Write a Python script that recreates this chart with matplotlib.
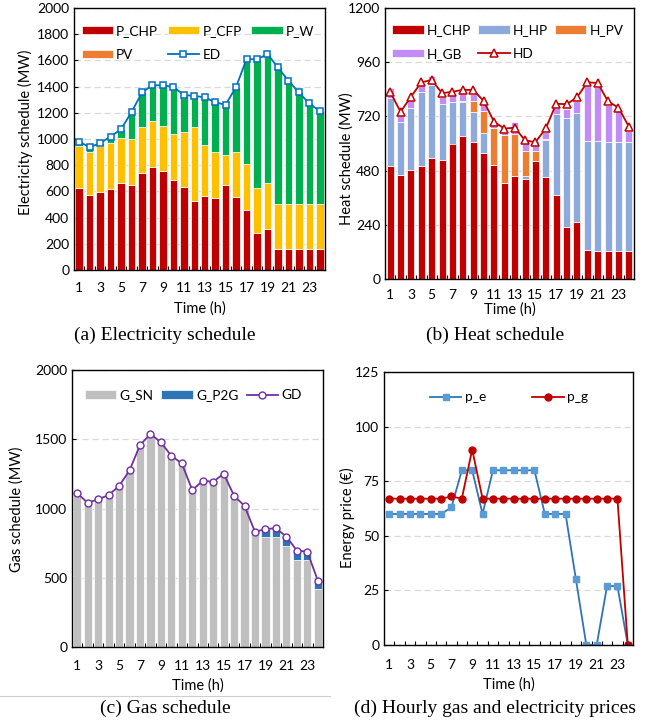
import numpy as np
import matplotlib
matplotlib.use('Agg')
import matplotlib.pyplot as plt
from matplotlib.lines import Line2D

plt.rcParams['font.family'] = ['Lato', 'DejaVu Sans']
plt.rcParams['font.size'] = 10

hours = list(range(1, 25))
xtick_labels = [str(h) for h in range(1, 25, 2)]

# (a) electricity schedule (MW)
p_chp = [624, 573, 596, 622, 662, 650, 744, 785, 752, 690, 630, 527,
         566, 552, 652, 555, 459, 282, 313, 158, 158, 158, 158, 158]
p_cfp = [326, 331, 347, 346, 344, 349, 346, 354, 349, 350, 422, 565,
         390, 347, 223, 349, 349, 347, 352, 346, 346, 346, 346, 346]
p_w = [28, 34, 25, 51, 69, 206, 265, 272, 308, 358, 284, 227,
       362, 381, 386, 494, 802, 979, 983, 1042, 941, 851, 767, 709]
pv = [0, 0, 0, 0, 0, 0, 0, 0, 0, 0, 0, 10,
      0, 0, 0, 0, 0, 0, 0, 0, 0, 0, 0, 0]
ed = [978, 938, 968, 1019, 1075, 1205, 1355, 1411, 1409, 1398, 1336, 1329,
      1318, 1280, 1261, 1398, 1610, 1608, 1648, 1546, 1445, 1355, 1271, 1213]

# (b) heat schedule (MW)
h_chp = [502, 462, 481, 501, 534, 526, 600, 633, 605, 556, 504, 424,
         455, 444, 522, 450, 370, 229, 254, 128, 125, 123, 123, 123]
h_hp = [298, 235, 278, 325, 326, 251, 182, 150, 135, 92, 0, 0,
        0, 14, 0, 164, 360, 483, 483, 483, 484, 485, 485, 485]
h_pv = [0, 0, 0, 0, 0, 0, 0, 6, 48, 97, 165, 214,
        186, 108, 47, 7, 0, 0, 0, 0, 0, 0, 0, 0]
h_gb = [46, 28, 33, 33, 38, 31, 32, 33, 32, 29, 16, 17,
        52, 34, 42, 30, 29, 40, 49, 242, 240, 162, 134, 47]
hd = [829, 740, 807, 871, 881, 823, 829, 838, 837, 789, 697, 666,
      670, 614, 606, 667, 776, 774, 804, 871, 868, 786, 759, 675]

# (c) gas schedule (MW)
g_sn = [1109, 1042, 1066, 1097, 1162, 1275, 1457, 1539, 1477, 1381, 1325, 1133,
        1200, 1193, 1251, 1092, 1018, 831, 797, 797, 732, 629, 629, 420]
g_p2g = [0, 0, 0, 0, 0, 0, 0, 0, 0, 0, 0, 0,
         0, 0, 0, 0, 0, 0, 55, 60, 65, 67, 60, 60]
gd = [1109, 1042, 1066, 1097, 1162, 1275, 1457, 1539, 1477, 1381, 1325, 1133,
      1200, 1193, 1251, 1092, 1018, 831, 852, 857, 797, 696, 689, 480]

# (d) prices
p_e = [60, 60, 60, 60, 60, 60, 63, 80, 80, 60, 80, 80,
       80, 80, 80, 60, 60, 60, 30, 0, 0, 27, 27, 0]
p_g = [67, 67, 67, 67, 67, 67, 68, 67, 89.5, 67, 67, 67,
       67, 67, 67, 67, 67, 67, 67, 67, 67, 67, 67, 0]

W, H = 663, 722
fig = plt.figure(figsize=(W / 100, H / 100), dpi=100)


def make_ax(left, top, right, bottom):
    return fig.add_axes([left / W, 1 - bottom / H, (right - left) / W, (bottom - top) / H])


def style(ax, ymax, ystep, ylabel, lab_xy, tpad=9, xlpad=5):
    ax.set_xlim(0.5, 24.5)
    ax.set_ylim(0, ymax)
    ax.set_yticks(np.arange(0, ymax + 1, ystep))
    ax.set_xticks(range(1, 25, 2))
    ax.set_xticklabels(xtick_labels)
    ax.set_xticks(np.arange(1.5, 24, 1), minor=True)
    ax.tick_params(axis='x', which='major', length=0, pad=tpad, labelsize=10)
    ax.tick_params(axis='x', which='minor', direction='in', length=3, width=0.8)
    ax.tick_params(axis='y', direction='in', length=3, labelsize=10)
    ax.grid(axis='y', ls=(0, (5, 3)), color='#d9d9d9', lw=0.9)
    ax.set_axisbelow(True)
    for s in ax.spines.values():
        s.set_color('black')
        s.set_linewidth(1.0)
    ax.set_xlabel('Time (h)', fontsize=10.5, labelpad=xlpad)
    ax.set_ylabel(ylabel, fontsize=10.5, va='center')
    ax.yaxis.set_label_coords(*lab_xy)


def legend(ax, handles, labels, ncol, anchor, colsp=0.7):
    ax.legend(handles, labels, ncol=ncol, loc='upper left', bbox_to_anchor=anchor,
              frameon=False, fontsize=9.8, handlelength=2.3, handleheight=0.55,
              handletextpad=0.25, columnspacing=colsp, labelspacing=0.85,
              borderaxespad=0, borderpad=0)


x = np.array(hours)

# ---- (a)
ax = make_ax(74, 8, 325, 270)
b = np.zeros(24)
ba = []
for vals, col in [(p_chp, '#C00000'), (p_cfp, '#FFC000'), (p_w, '#00B050'), (pv, '#ED7D31')]:
    ba.append(ax.bar(x, vals, 0.72, bottom=b, color=col, edgecolor='white', linewidth=0.5))
    b = b + np.array(vals)
la, = ax.plot(x, ed, color='#0070C0', lw=1.3, marker='s', ms=5, mfc='white', mec='#0070C0', mew=1.1)
style(ax, 2000, 200, 'Electricity schedule (MW)', (-0.195, 0.527))
legend(ax, [ba[0], ba[3], ba[1], la, ba[2]], ['P_CHP', 'PV', 'P_CFP', 'ED', 'P_W'], 3, (0.03, 0.935), 0.7)

# ---- (b)
ax = make_ax(385, 8, 634, 279)
b = np.zeros(24)
bb = []
for vals, col in [(h_chp, '#C00000'), (h_hp, '#8EA9DB'), (h_pv, '#ED7D31'), (h_gb, '#C28CF7')]:
    bb.append(ax.bar(x, vals, 0.68, bottom=b, color=col, edgecolor='white', linewidth=0.5))
    b = b + np.array(vals)
lb, = ax.plot(x, hd, color='#C00000', lw=1.3, marker='^', ms=5.5, mfc='white', mec='#C00000', mew=1.1)
style(ax, 1200, 240, 'Heat schedule (MW)', (-0.155, 0.443), tpad=7, xlpad=1)
legend(ax, [bb[0], bb[3], bb[1], lb, bb[2]], ['H_CHP', 'H_GB', 'H_HP', 'HD', 'H_PV'], 3, (0.03, 0.94), 0.5)

# ---- (c)
ax = make_ax(72, 370, 323, 647)
bc1 = ax.bar(x, g_sn, 0.78, color='#BFBFBF', edgecolor='white', linewidth=0.5)
bc2 = ax.bar(x, g_p2g, 0.78, bottom=g_sn, color='#2E75B6', edgecolor='white', linewidth=0.5)
lc, = ax.plot(x, gd, color='#7030A0', lw=1.3, marker='o', ms=5, mfc='white', mec='#7030A0', mew=1.0)
style(ax, 2000, 500, 'Gas schedule (MW)', (-0.219, 0.496))
legend(ax, [bc1, bc2, lc], ['G_SN', 'G_P2G', 'GD'], 3, (0.05, 0.93), 0.6)

# ---- (d)
ax = make_ax(384, 372, 633, 645)
l1, = ax.plot(x, p_e, color='#2E75B6', lw=1.3, marker='s', ms=5, mfc='#5B9BD5', mec='#5B9BD5')
l2, = ax.plot(x, p_g, color='#C00000', lw=1.3, marker='o', ms=5, mfc='#C00000', mec='#C00000')
style(ax, 125, 25, 'Energy price (€)', (-0.145, 0.465), tpad=10)
legend(ax, [l1, l2], ['p_e', 'p_g'], 2, (0.185, 0.93), 3.4)

# captions
cap = dict(family=['Liberation Serif', 'DejaVu Serif'], fontsize=14, ha='center', va='center')
fig.text(165 / W, 1 - 335 / H, '(a) Electricity schedule', **cap)
fig.text(495 / W, 1 - 335 / H, '(b) Heat schedule', **cap)
fig.text(165 / W, 1 - 708 / H, '(c) Gas schedule', **cap)
fig.text(495 / W, 1 - 708 / H, '(d) Hourly gas and electricity prices', **cap)
fig.add_artist(Line2D([0, 330 / W], [1 - 696 / H, 1 - 696 / H], color='#d0d0d0', lw=0.8))

fig.savefig('out.png', dpi=100)
